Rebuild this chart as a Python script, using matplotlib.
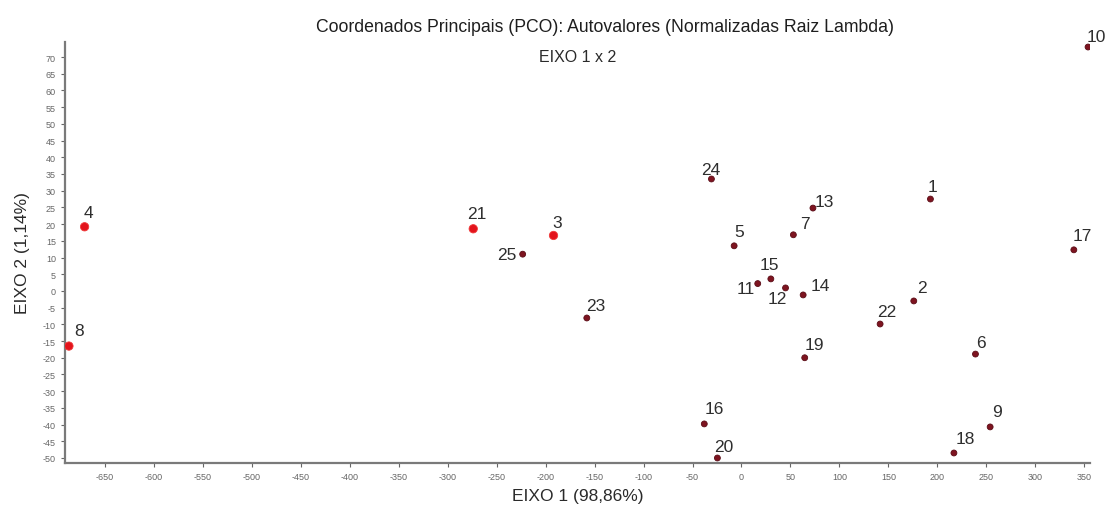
import numpy as np
import matplotlib
matplotlib.use('Agg')
import matplotlib.pyplot as plt

# dados (eixo 1, eixo 2)
rotulos = ['1', '2', '3', '4', '5', '6', '7', '8', '9', '10', '11', '12', '13',
           '14', '15', '16', '17', '18', '19', '20', '21', '22', '23', '24', '25']
eixo1 = [193, 176, -192, -671, -7.5, 239, 53, -687, 254, 354, 16.6, 45, 73,
         63, 30, -38, 339.5, 217, 64.6, -24.6, -274, 141.6, -158, -30.7, -223.5]
eixo2 = [27.5, -3, 16.6, 19.2, 13.5, -18.9, 16.8, -16.5, -40.7, 73, 2.2, 0.9, 24.8,
         -1.2, 3.6, -39.8, 12.3, -48.5, -20, -50, 18.6, -9.9, -8.1, 33.5, 11]
destaque = ['3', '4', '8', '21']

# deslocamento dos rotulos em pixels (dx, dy)
desloc = {'1': (2, 13), '2': (8, 13), '3': (4, 13), '4': (4, 14), '5': (5, 14),
          '6': (5, 12), '7': (12, 11), '8': (10, 16), '9': (7, 15), '10': (8, 11),
          '11': (-12, -5), '12': (-8, -11), '13': (11, 7), '14': (17, 9),
          '15': (-1, 14), '16': (10, 15), '17': (8, 14), '18': (11, 14),
          '19': (10, 13), '20': (6, 11), '21': (4, 15), '22': (7, 13),
          '23': (9, 12), '24': (-1, 9), '25': (-16, 0)}

plt.rcParams['font.family'] = ['Liberation Sans', 'DejaVu Sans']
plt.rcParams['axes.unicode_minus'] = False

fig = plt.figure(figsize=(11.05, 5.06), dpi=100, facecolor='white')
ax = fig.add_axes([65 / 1105, 42 / 506, 1025 / 1105, 421 / 506])

x = np.array(eixo1)
y = np.array(eixo2)
cores = ['#e3141c' if r in destaque else '#7e1420' for r in rotulos]
tam = [36 if r in destaque else 18 for r in rotulos]
ax.scatter(x, y, s=tam, c=cores, zorder=3, linewidths=0.6,
           edgecolors=['#f03a3a' if r in destaque else '#5a0c16' for r in rotulos])

for r, xi, yi in zip(rotulos, x, y):
    dx, dy = desloc[r]
    ax.annotate(r, (xi, yi), xytext=(dx, dy), textcoords='offset pixels',
                ha='center', va='center', fontsize=12.5, color='#2e2e2e')

ax.set_xlim(-691, 356)
ax.set_ylim(-51.5, 74.5)
ax.set_xticks(np.arange(-650, 351, 50))
ax.set_yticks(np.arange(-50, 71, 5))
ax.tick_params(labelsize=6.5, colors='#666666', length=3, width=0.8, direction='out')
for lado in ['top', 'right']:
    ax.spines[lado].set_visible(False)
for lado in ['left', 'bottom']:
    ax.spines[lado].set_color('#7a7a7a')
    ax.spines[lado].set_linewidth(1.6)

ax.set_xlabel('EIXO 1 (98,86%)', fontsize=12.5, color='#2a2a2a', labelpad=5)
ax.set_ylabel('EIXO 2 (1,14%)', fontsize=12.5, color='#2a2a2a', labelpad=9)
ax.text(0.5, 0.965, 'EIXO 1 x 2', transform=ax.transAxes, ha='center', va='center',
        fontsize=11.5, color='#2a2a2a')
fig.text(605 / 1105, 1 - 27 / 506,
         'Coordenados Principais (PCO): Autovalores (Normalizadas Raiz Lambda)',
         ha='center', va='center', fontsize=12.7, color='#1e1e1e')

fig.savefig('out.png', dpi=100)
